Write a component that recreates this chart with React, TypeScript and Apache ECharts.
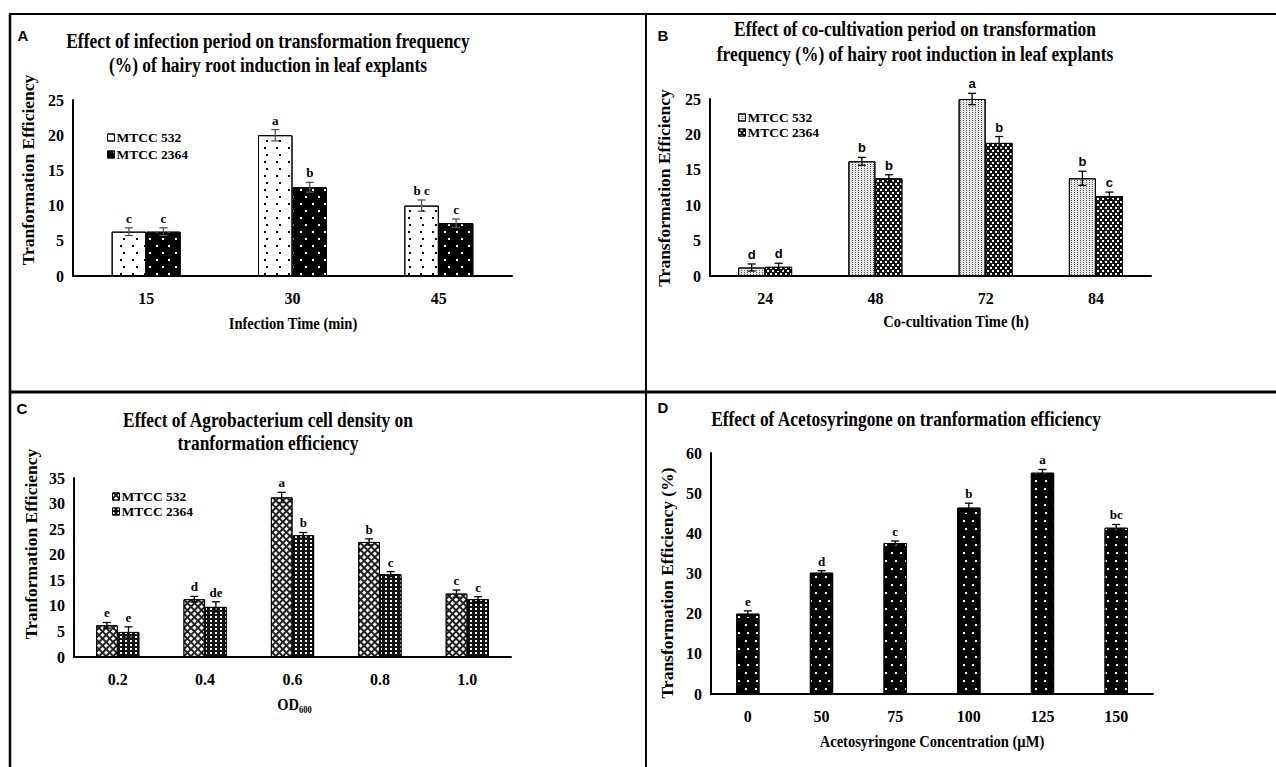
import React, { useEffect, useRef } from 'react';
import * as echarts from 'echarts';

const SERIF = '"Liberation Serif", "Times New Roman", serif';
const SANS = '"Liberation Sans", Arial, sans-serif';

// Panel A
const catsA = ['15', '30', '45'];
const a532 = [6.3, 20.0, 10.0];
const a532Err = [0.55, 0.8, 0.8];
const a532Sig = ['c', 'a', 'b c'];
const a2364 = [6.3, 12.6, 7.5];
const a2364Err = [0.55, 0.7, 0.6];
const a2364Sig = ['c', 'b', 'c'];

// Panel B
const catsB = ['24', '48', '72', '84'];
const b532 = [1.2, 16.2, 25.0, 13.8];
const b532Err = [0.5, 0.55, 0.8, 1.0];
const b532Sig = ['d', 'b', 'a', 'b'];
const b2364 = [1.3, 13.8, 18.8, 11.3];
const b2364Err = [0.5, 0.5, 0.9, 0.55];
const b2364Sig = ['d', 'b', 'b', 'c'];

// Panel C
const catsC = ['0.2', '0.4', '0.6', '0.8', '1.0'];
const c532 = [6.2, 11.3, 31.2, 22.5, 12.4];
const c532Err = [0.55, 0.55, 1.0, 0.6, 0.7];
const c532Sig = ['e', 'd', 'a', 'b', 'c'];
const c2364 = [4.9, 9.8, 23.8, 16.2, 11.3];
const c2364Err = [1.0, 1.0, 0.55, 0.5, 0.5];
const c2364Sig = ['e', 'de', 'b', 'c', 'c'];

// Panel D
const catsD = ['0', '50', '75', '100', '125', '150'];
const dVals = [20.0, 30.2, 37.6, 46.4, 55.1, 41.4];
const dErr = [0.7, 0.5, 0.5, 1.1, 0.8, 0.8];
const dSig = ['e', 'd', 'c', 'b', 'a', 'bc'];

const decA532 = { symbol: 'rect', symbolSize: 1, color: '#000', backgroundColor: '#fff', dashArrayX: [[1.4, 10], [0, 5.7, 1.4, 4.3]], dashArrayY: [1.4, 4.3] };
const decA2364 = { symbol: 'rect', symbolSize: 1, color: '#fff', backgroundColor: '#000', dashArrayX: [[1.4, 10], [0, 5.7, 1.4, 4.3]], dashArrayY: [1.4, 4.3] };
const decB532 = { symbol: 'rect', symbolSize: 1, color: '#555', backgroundColor: '#e8e8e8', dashArrayX: [1, 1.3], dashArrayY: [1, 1] };
const decB2364 = { symbol: 'rect', symbolSize: 1, color: '#fff', backgroundColor: '#111', dashArrayX: [[1.2, 2.8], [0, 2, 1.2, 0.8]], dashArrayY: [1.2, 0.8] };
const decC532 = { symbol: 'rect', symbolSize: 1, color: '#fff', backgroundColor: '#222', dashArrayX: [2.6, 1.2], dashArrayY: [2.6, 1.2], rotation: Math.PI / 4 };
const decC2364 = { symbol: 'rect', symbolSize: 1, color: '#fff', backgroundColor: '#111', dashArrayX: [1.2, 2.2], dashArrayY: [1.2, 1.8] };
const decD = { symbol: 'rect', symbolSize: 1, color: '#fff', backgroundColor: '#000', dashArrayX: [[1.5, 7], [0, 4.25, 1.5, 2.75]], dashArrayY: [1.5, 5.5] };

function errSeries(gi: number, values: number[], errs: number[], sigs: string[], offset: number, color: string, letterFont: string) {
  return {
    type: 'custom',
    xAxisIndex: gi,
    yAxisIndex: gi,
    z: 10,
    silent: true,
    clip: false,
    data: values.map((v, i) => [i, v, errs[i]]),
    encode: { x: 0, y: 1 },
    renderItem: (params: any, api: any) => {
      const i = api.value(0);
      const v = api.value(1);
      const e = api.value(2);
      const top = api.coord([i, v + e]);
      const bot = api.coord([i, v - e]);
      const x = top[0] + offset;
      const cap = 4;
      const ls = { stroke: color, lineWidth: 1.3 };
      return {
        type: 'group',
        children: [
          { type: 'line', shape: { x1: x, y1: top[1], x2: x, y2: bot[1] }, style: ls },
          { type: 'line', shape: { x1: x - cap, y1: top[1], x2: x + cap, y2: top[1] }, style: ls },
          { type: 'line', shape: { x1: x - cap, y1: bot[1], x2: x + cap, y2: bot[1] }, style: ls },
          {
            type: 'text', x, y: top[1] - 3,
            style: {
              text: sigs[params.dataIndex], fill: '#000', fontFamily: letterFont, fontWeight: 'bold', fontSize: 13,
              align: 'center', verticalAlign: 'bottom', textAlign: 'center', textVerticalAlign: 'bottom',
            },
          },
        ],
      };
    },
  };
}

function txt(text: string, x: number, y: number, size: number, opts: any = {}) {
  return {
    type: 'text', x, y,
    rotation: opts.rotation || 0,
    scaleX: opts.scaleX || 1,
    z: 100,
    style: {
      text, fill: '#000', fontFamily: opts.family || SERIF, fontWeight: 'bold', fontSize: size,
      align: opts.align || 'center', verticalAlign: 'middle', textAlign: opts.align || 'center', textVerticalAlign: 'middle',
    },
  };
}

function hline(x1: number, y1: number, x2: number, y2: number, w: number) {
  return { type: 'line', z: 100, shape: { x1, y1, x2, y2 }, style: { stroke: '#000', lineWidth: w } };
}

function xAx(gi: number, data: string[]) {
  return {
    gridIndex: gi, type: 'category', data,
    axisLine: { lineStyle: { color: '#000', width: 2 } },
    axisTick: { show: false },
    axisLabel: { color: '#000', fontFamily: SERIF, fontWeight: 'bold', fontSize: 16, margin: 14 },
  };
}

function yAx(gi: number, max: number, interval: number) {
  return {
    gridIndex: gi, type: 'value', min: 0, max, interval,
    axisLine: { show: true, lineStyle: { color: '#000', width: 2 } },
    axisTick: { show: false },
    splitLine: { show: false },
    axisLabel: { color: '#000', fontFamily: SERIF, fontWeight: 'bold', fontSize: 16, margin: 9 },
  };
}

function bar(name: string, gi: number, data: number[], w: number, decal: any, color: string) {
  return {
    type: 'bar', name, xAxisIndex: gi, yAxisIndex: gi, data, barWidth: w, barGap: '0%',
    itemStyle: { color, borderColor: '#000', borderWidth: 1, decal },
  };
}

function legendAt(names: string[], left: number, top: number, gap: number) {
  return {
    data: names, left, top, orient: 'vertical', itemWidth: 7, itemHeight: 7, itemGap: gap,
    selectedMode: false, icon: 'rect',
    formatter: (n: string) => n.split('|')[0],
    itemStyle: { borderColor: '#000', borderWidth: 1 },
    textStyle: { fontFamily: SERIF, fontWeight: 'bold', fontSize: 13.5, color: '#000', lineHeight: 13, padding: [0, 0, 0, -3] },
  };
}

export default function App() {
  const ref = useRef<HTMLDivElement>(null);
  useEffect(() => {
    if (!ref.current) return;
    const chart = echarts.init(ref.current, undefined, { renderer: 'svg' });
    const wA = 34.5, wB = 27, wC = 21.6, wD = 23.3;
    const option: any = {
      animation: false,
      backgroundColor: '#fff',
      grid: [
        { left: 73, top: 100, width: 439, height: 176 },
        { left: 710, top: 99, width: 441, height: 177 },
        { left: 74, top: 478, width: 437, height: 179 },
        { left: 711, top: 453, width: 442, height: 241 },
      ],
      xAxis: [xAx(0, catsA), xAx(1, catsB), xAx(2, catsC), xAx(3, catsD)],
      yAxis: [yAx(0, 25, 5), yAx(1, 25, 5), yAx(2, 35, 5), yAx(3, 60, 10)],
      legend: [
        legendAt(['MTCC 532|A', 'MTCC 2364|A'], 102, 125.5, 3),
        legendAt(['MTCC 532|B', 'MTCC 2364|B'], 733, 105.5, 1),
        legendAt(['MTCC 532|C', 'MTCC 2364|C'], 107, 484.5, 1),
      ],
      series: [
        bar('MTCC 532|A', 0, a532, wA, decA532, '#fff'),
        bar('MTCC 2364|A', 0, a2364, wA, decA2364, '#000'),
        bar('MTCC 532|B', 1, b532, wB, decB532, '#e8e8e8'),
        bar('MTCC 2364|B', 1, b2364, wB, decB2364, '#111'),
        bar('MTCC 532|C', 2, c532, wC, decC532, '#222'),
        bar('MTCC 2364|C', 2, c2364, wC, decC2364, '#111'),
        bar('Acetosyringone', 3, dVals, wD, decD, '#000'),
        errSeries(0, a532, a532Err, a532Sig, -wA / 2, '#555', SERIF),
        errSeries(0, a2364, a2364Err, a2364Sig, wA / 2, '#555', SERIF),
        errSeries(1, b532, b532Err, b532Sig, -wB / 2, '#000', SANS),
        errSeries(1, b2364, b2364Err, b2364Sig, wB / 2, '#000', SANS),
        errSeries(2, c532, c532Err, c532Sig, -wC / 2, '#000', SERIF),
        errSeries(2, c2364, c2364Err, c2364Sig, wC / 2, '#000', SERIF),
        errSeries(3, dVals, dErr, dSig, 0, '#000', SERIF),
      ],
      graphic: [
        hline(9, 14, 1276, 14, 2),
        hline(10, 14, 10, 767, 2.5),
        hline(646, 14, 646, 767, 2),
        hline(10, 392, 1276, 392, 3),
        txt('A', 23, 35, 15, { family: SANS }),
        txt('B', 663, 35, 15, { family: SANS }),
        txt('C', 22, 408, 15, { family: SANS }),
        txt('D', 663, 407, 15, { family: SANS }),
        txt('Effect of infection period on transformation frequency', 268, 41, 20, { scaleX: 0.87 }),
        txt('(%) of hairy root induction in leaf explants', 268, 65, 20, { scaleX: 0.87 }),
        txt('Effect of co-cultivation period on transformation', 915, 29, 20, { scaleX: 0.87 }),
        txt('frequency (%) of hairy root induction in leaf explants', 915, 54, 20, { scaleX: 0.87 }),
        txt('Effect of Agrobacterium cell density on', 268, 420, 20, { scaleX: 0.87 }),
        txt('tranformation efficiency', 268, 443, 20, { scaleX: 0.87 }),
        txt('Effect of Acetosyringone on tranformation efficiency', 906, 419, 20, { scaleX: 0.87 }),
        txt('Infection Time (min)', 293, 323, 17.5, { scaleX: 0.83 }),
        txt('Co-cultivation Time (h)', 956, 321, 17.5, { scaleX: 0.83 }),
        txt('OD', 299, 704, 17.5, { scaleX: 0.83, align: 'right' }),
        txt('600', 299, 710, 10, { scaleX: 0.85, align: 'left' }),
        txt('Acetosyringone Concentration (µM)', 932, 741, 17.5, { scaleX: 0.83 }),
        txt('Tranformation Efficiency', 28, 170, 17.5, { rotation: Math.PI / 2 }),
        txt('Transformation Efficiency', 664, 188, 17.5, { rotation: Math.PI / 2 }),
        txt('Tranformation Efficiency', 31, 544, 17.5, { rotation: Math.PI / 2 }),
        txt('Transformation Efficiency (%)', 667, 583, 17.5, { rotation: Math.PI / 2 }),
      ],
    };
    chart.setOption(option);
    return () => chart.dispose();
  }, []);
  return <div ref={ref} style={{ position: 'fixed', left: 0, top: 0, width: 1276, height: 767 }} />;
}
